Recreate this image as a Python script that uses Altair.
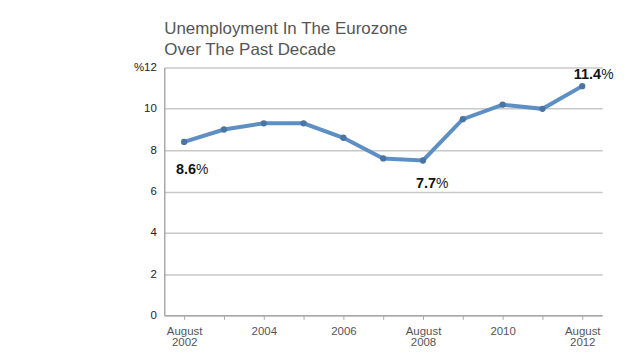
import altair as alt
import pandas as pd

years = [2002, 2003, 2004, 2005, 2006, 2007, 2008, 2009, 2010, 2011, 2012]
rates = [8.4, 9.0, 9.3, 9.3, 8.6, 7.6, 7.5, 9.5, 10.2, 10.0, 11.1]
x_labels = {2002: ["August", "2002"], 2004: "2004", 2006: "2006",
            2008: ["August", "2008"], 2010: "2010", 2012: ["August", "2012"]}
y_ticks = [0, 2, 4, 6, 8, 10, 12]
callout_years = [2002, 2008, 2012]
callout_text = ["8.6", "7.7", "11.4"]
title_lines = ["Unemployment In The Eurozone", "Over The Past Decade"]

FONT = "Liberation Sans"
df = pd.DataFrame({"year": years, "rate": rates})

def lab(v):
    if isinstance(v, list):
        return "[" + ",".join("'%s'" % s for s in v) + "]"
    return "'%s'" % v

expr = "''"
for y, v in reversed(list(x_labels.items())):
    expr = "datum.value == %d ? %s : (%s)" % (y, lab(v), expr)

x = alt.X("year:Q", scale=alt.Scale(domain=[years[0] - 0.5, years[-1] + 0.5], nice=False, zero=False),
          axis=alt.Axis(values=years, labelExpr=expr, grid=False, title=None,
                        domainColor="#a8a8a8", domainWidth=1.5, tickColor="#a8a8a8",
                        tickSize=4, labelColor="#555555", labelFontSize=11.5, labelFont=FONT,
                        labelBaseline="middle", labelPadding=12, labelLineHeight=11))
y = alt.Y("rate:Q", scale=alt.Scale(domain=[0, 12], nice=False),
          axis=alt.Axis(values=y_ticks, labelExpr="datum.value == 12 ? '%12' : datum.label",
                        title=None, tickSize=0, labelPadding=8, gridColor="#c8c8c8", gridWidth=1.5,
                        domainColor="#a8a8a8", domainWidth=1.5, labelColor="#222222",
                        labelFontSize=11.5, labelFont=FONT))

line = alt.Chart(df).mark_line(color="#5e8fc4", strokeWidth=4).encode(x=x, y=y)
pts = alt.Chart(df).mark_circle(color="#4a74a4", size=40, opacity=1).encode(x="year:Q", y="rate:Q")

cdf = df[df["year"].isin(callout_years)].copy()
cdf["txt"] = [callout_text[callout_years.index(v)] for v in cdf["year"]]
offsets = [(12, 28), (13, 24), (19, -11)]
layers = [line, pts]
for (yr, t), (dx, dy) in zip(zip(callout_years, callout_text), offsets):
    sub = cdf[cdf["year"] == yr]
    layers.append(alt.Chart(sub).mark_text(align="right", dx=dx, dy=dy, fontSize=14.5,
                                           fontWeight="bold", font=FONT, color="#111111")
                  .encode(x="year:Q", y="rate:Q", text="txt:N"))
    layers.append(alt.Chart(sub).mark_text(align="left", dx=dx, dy=dy, fontSize=14,
                                           font=FONT, color="#222222")
                  .encode(x="year:Q", y="rate:Q", text=alt.value("%")))

chart = alt.layer(*layers).properties(
    width=440, height=249,
    title=alt.Title(title_lines, anchor="start", frame="group", fontSize=17, font=FONT,
                    fontWeight="normal", color="#555555", lineHeight=20.5, offset=3),
    autosize=alt.AutoSizeParams(type="none"),
    padding={"left": 157, "top": 59, "right": 30, "bottom": 40},
).configure_view(stroke=None)

chart.save("out.html", embed_options={"renderer": "svg", "actions": False})
